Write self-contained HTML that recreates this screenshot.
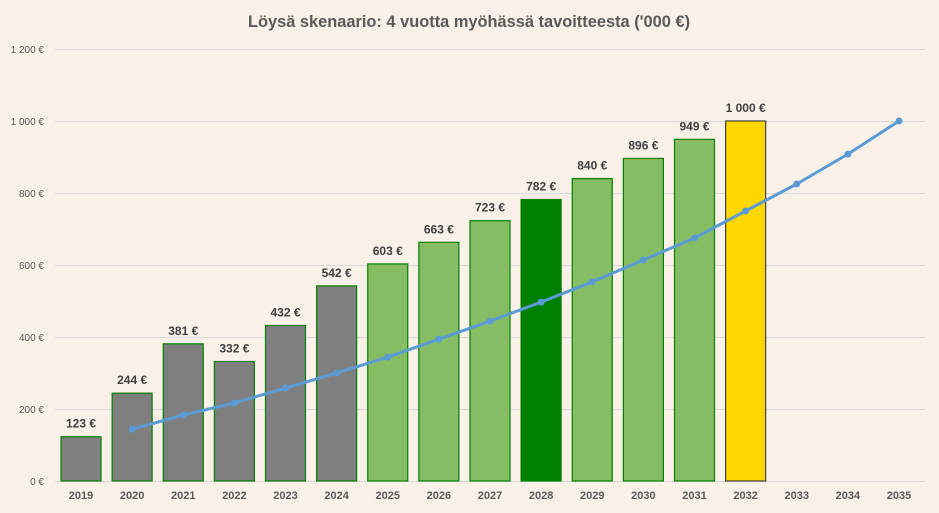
<!DOCTYPE html>
<html><head><meta charset="utf-8"><style>body{margin:0;background:#f9f1e7}svg{display:block;font-family:"Liberation Sans",sans-serif}</style></head><body>
<svg width="939" height="513" viewBox="0 0 939 513">
<rect width="939" height="513" fill="#f9f1e7"/>
<text x="469" y="27" text-anchor="middle" font-size="16.4" font-weight="bold" fill="#595959">Löysä skenaario: 4 vuotta myöhässä tavoitteesta ('000 €)</text>
<g stroke="#d9d9d9" stroke-width="1">
<line x1="55" x2="925" y1="49.5" y2="49.5"/><line x1="55" x2="925" y1="121.5" y2="121.5"/><line x1="55" x2="925" y1="193.5" y2="193.5"/><line x1="55" x2="925" y1="265.5" y2="265.5"/><line x1="55" x2="925" y1="337.5" y2="337.5"/><line x1="55" x2="925" y1="409.5" y2="409.5"/><line x1="55" x2="925" y1="481.5" y2="481.5"/>
</g>
<g font-size="10" fill="#595959" text-anchor="end">
<text x="44" y="53">1 200 €</text><text x="44" y="125">1 000 €</text><text x="44" y="197">800 €</text><text x="44" y="269">600 €</text><text x="44" y="341">400 €</text><text x="44" y="413">200 €</text><text x="44" y="485">0 €</text>
</g>
<g id="bars" stroke-width="1.2"></g>
<g id="labels" font-size="12" font-weight="bold" fill="#404040" text-anchor="middle"></g>
<g id="xl" font-size="11" font-weight="bold" fill="#595959" text-anchor="middle"></g>
<polyline id="ln" fill="none" stroke="#5b9bd5" stroke-width="3" stroke-linejoin="round"/>
<g id="pts" fill="#5b9bd5"></g>
</svg>
<script>
var vals=[123,244,381,332,432,542,603,663,723,782,840,896,949,1000];
var line=[null,144,183,217,258,300,344,394,444,497,553,614,675,750,825,908,1000];
var ns="http://www.w3.org/2000/svg";
function el(p,t,a,txt){var e=document.createElementNS(ns,t);for(var k in a)e.setAttribute(k,a[k]);if(txt)e.textContent=txt;document.getElementById(p).appendChild(e);}
for(var i=0;i<17;i++){var cx=81+51.125*i;
el("xl","text",{x:cx,y:499},String(2019+i));
if(i<vals.length){var v=vals[i],h=v*0.36,fill=i<6?"#7f7f7f":(i==9?"#008000":(i==13?"#ffd700":"#86bc63")),st=i==13?"#404040":"#008000";
el("bars","rect",{x:cx-20,y:481-h,width:40,height:h,fill:fill,stroke:st});
el("labels","text",{x:cx,y:481-h-9},(v>=1000?"1 000":v)+" €");}
}
var pts=[];for(var i=1;i<17;i++){var x=81+51.125*i,y=481-line[i]*0.36;pts.push(x+","+y);el("pts","circle",{cx:x,cy:y,r:3.5});}
document.getElementById("ln").setAttribute("points",pts.join(" "));
</script>
</body></html>
